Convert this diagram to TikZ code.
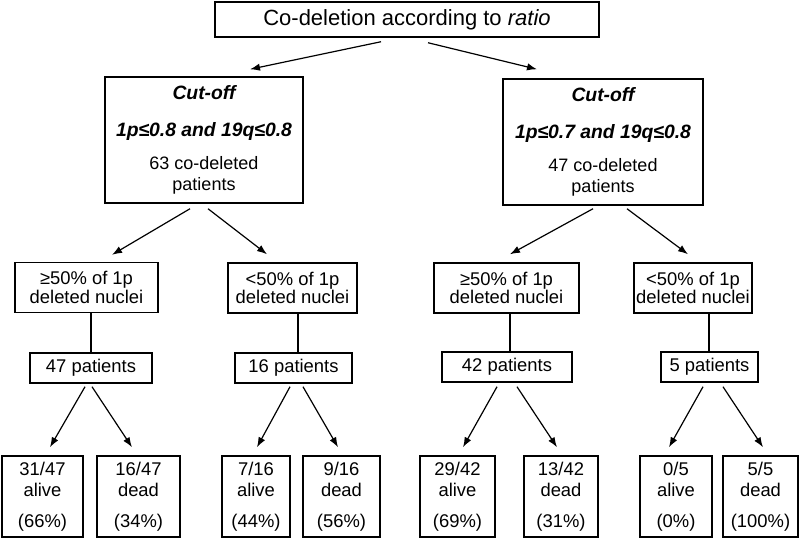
\documentclass[tikz,border=0pt]{standalone}
\usepackage{fontspec}
\setmainfont{Liberation Sans}
\usetikzlibrary{arrows.meta,calc}
\begin{document}
\begin{tikzpicture}[x=0.75pt,y=-0.75pt,
  box/.style={draw,line width=1.1pt,rectangle,inner sep=0pt,align=center},
  arr/.style={line width=0.9pt,-{Latex[length=7.5pt,width=5.5pt]}},
  ln/.style={line width=0.9pt},
  cutbox/.style={box,minimum height=126*0.75pt,font=\fontsize{13.5}{16.2}\selectfont},
  lvbox/.style={box,minimum height=50*0.75pt,font=\fontsize{13.8}{14}\selectfont},
  patbox/.style={box,minimum height=30*0.75pt,font=\fontsize{13.8}{16}\selectfont},
  leafbox/.style={box,minimum height=81*0.75pt,font=\fontsize{13.8}{16}\selectfont}]
\useasboundingbox (0,0) rectangle (800,539);
\fill[white] (0,0) rectangle (800,539);

\node[box,minimum width=384*0.75pt,minimum height=35*0.75pt,font=\fontsize{16.5}{19}\selectfont]
  (title) at (407,19.5) {Co-deletion according to \textit{ratio}};

\node[cutbox,minimum width=198*0.75pt] (cL) at (204,140)
  {{\fontsize{14.5}{16.2}\selectfont\bfseries\itshape Cut-off}\\[11.5pt]
   {\fontsize{14.5}{16.2}\selectfont\bfseries\itshape 1p≤0.8 and 19q≤0.8}\\[8.5pt]
   63 co-deleted\\patients};
\node[cutbox,minimum width=200*0.75pt] (cR) at (603,142)
  {{\fontsize{14.5}{16.2}\selectfont\bfseries\itshape Cut-off}\\[11.5pt]
   {\fontsize{14.5}{16.2}\selectfont\bfseries\itshape 1p≤0.7 and 19q≤0.8}\\[8.5pt]
   47 co-deleted\\patients};

\node[lvbox,minimum width=143*0.75pt] (aL) at (86.5,287.5) {≥50\% of 1p\\deleted nuclei};
\node[lvbox,minimum width=129*0.75pt] (bL) at (292.5,288) {<50\% of 1p\\deleted nuclei};
\node[lvbox,minimum width=145*0.75pt] (aR) at (506.5,288) {≥50\% of 1p\\deleted nuclei};
\node[lvbox,minimum width=118*0.75pt] (bR) at (693,288) {<50\% of 1p\\deleted nuclei};

\node[patbox,minimum width=122*0.75pt] (pL1) at (91,368) {47 patients};
\node[patbox,minimum width=117*0.75pt] (pL2) at (293.5,368) {16 patients};
\node[patbox,minimum width=130*0.75pt] (pR1) at (507,367) {42 patients};
\node[patbox,minimum width=97*0.75pt] (pR2) at (709.5,367) {5 patients};

\node[leafbox,minimum width=81*0.75pt] (l1) at (42.5,496.5) {31/47\\alive\\[7pt](66\%)};
\node[leafbox,minimum width=83*0.75pt] (l2) at (138.5,496.5) {16/47\\dead\\[7pt](34\%)};
\node[leafbox,minimum width=68*0.75pt] (l3) at (256,496.5) {7/16\\alive\\[7pt](44\%)};
\node[leafbox,minimum width=77*0.75pt] (l4) at (341.5,496.5) {9/16\\dead\\[7pt](56\%)};
\node[leafbox,minimum width=75*0.75pt] (l5) at (457.5,496.5) {29/42\\alive\\[7pt](69\%)};
\node[leafbox,minimum width=74*0.75pt] (l6) at (561,496.5) {13/42\\dead\\[7pt](31\%)};
\node[leafbox,minimum width=72*0.75pt] (l7) at (676,496.5) {0/5\\alive\\[7pt](0\%)};
\node[leafbox,minimum width=75*0.75pt] (l8) at (760.5,496.5) {5/5\\dead\\[7pt](100\%)};

% title to cut-offs
\draw[arr] ($(title.south)+(-26,4)$) -- ($(cL.north)+(46,-7)$);
\draw[arr] ($(title.south)+(21,5)$) -- ($(cR.north)+(-66,-9)$);
% cut-offs to level 2
\draw[arr] ($(cL.south)+(-14,5)$) -- ($(aL.north)+(25.5,-7)$);
\draw[arr] ($(cL.south)+(4,5)$) -- ($(bL.north)+(-25.5,-8)$);
\draw[arr] ($(cR.south)+(-10,3)$) -- ($(aR.north)+(3.5,-8)$);
\draw[arr] ($(cR.south)+(24,3)$) -- ($(bR.north)+(-5,-8)$);
% level 2 to patients
\draw[ln] ($(aL.south)+(4.5,0)$) -- (pL1.north);
\draw[ln] ($(bL.south)+(5.5,0)$) -- ($(pL2.north)+(4.5,0)$);
\draw[ln] ($(aR.south)+(3.5,0)$) -- ($(pR1.north)+(3,0)$);
\draw[ln] ($(bR.south)+(16,0)$) -- ($(pR2.north)+(-0.5,0)$);
% patients to leaves
\draw[arr] ($(pL1.south)+(-6,3)$) -- ($(l1.north)+(7.5,-8)$);
\draw[arr] ($(pL1.south)+(1,3)$) -- ($(l2.north)+(-6.5,-8)$);
\draw[arr] ($(pL2.south)+(-3.5,3)$) -- ($(l3.north)+(1,-8)$);
\draw[arr] ($(pL2.south)+(9.5,3)$) -- ($(l4.north)+(-3.5,-8)$);
\draw[arr] ($(pR1.south)+(-10,4)$) -- ($(l5.north)+(5.5,-8)$);
\draw[arr] ($(pR1.south)+(10,4)$) -- ($(l6.north)+(-4,-8)$);
\draw[arr] ($(pR2.south)+(-6.5,4)$) -- ($(l7.north)+(-7,-8)$);
\draw[arr] ($(pR2.south)+(13.5,4)$) -- ($(l8.north)+(2.5,-8)$);
\end{tikzpicture}
\end{document}
